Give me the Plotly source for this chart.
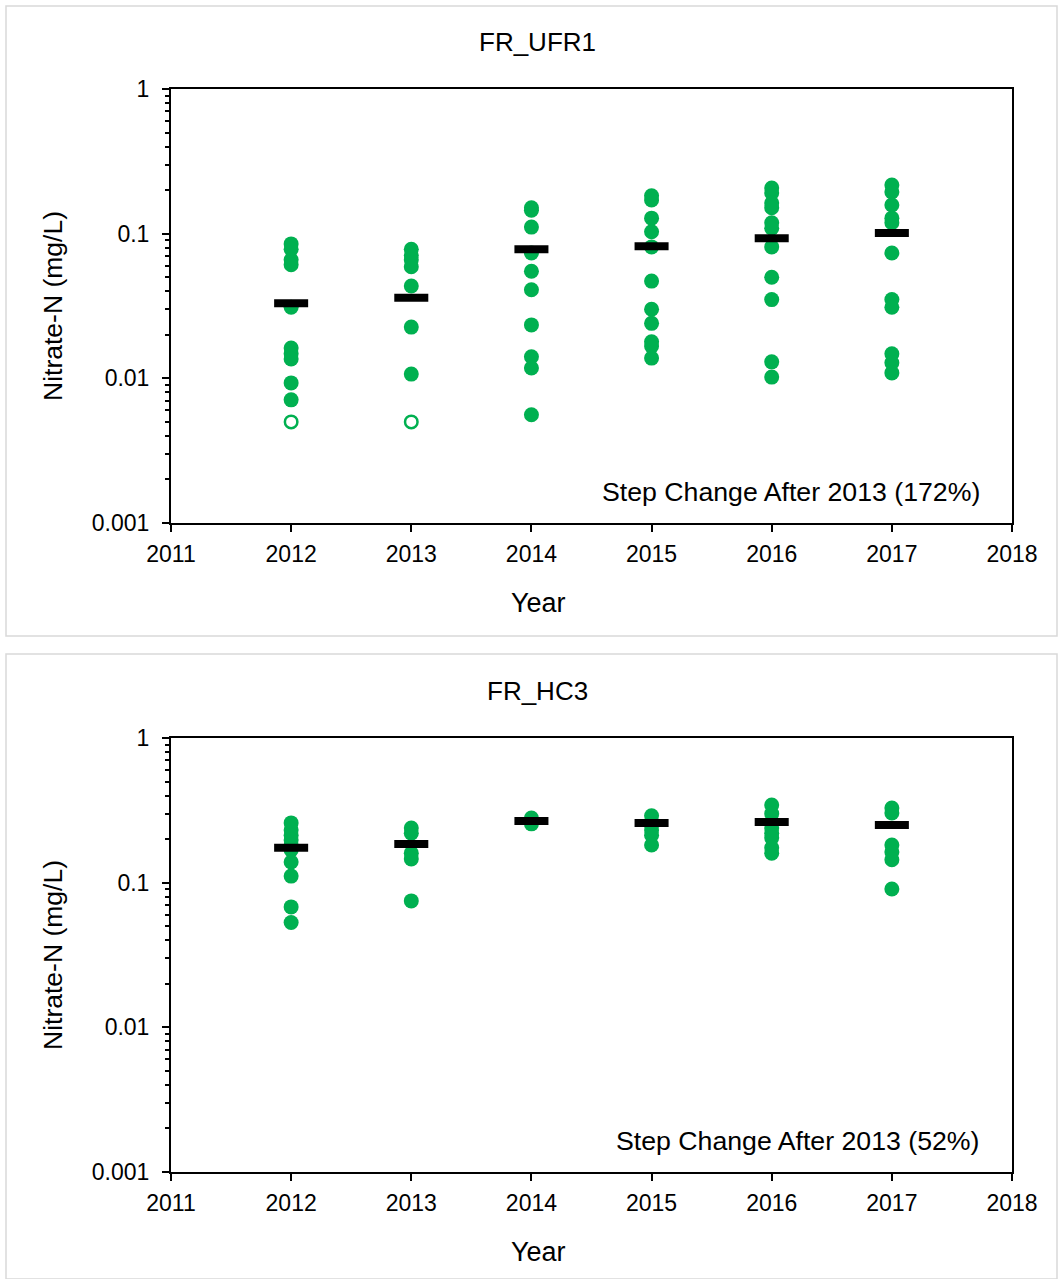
import plotly.graph_objects as go

# ---------------- data ----------------
years = [2012, 2013, 2014, 2015, 2016, 2017]

# FR_UFR1 (top)
ufr1_detect = {
    2012: [0.085, 0.078, 0.066, 0.061, 0.031, 0.0162, 0.0148, 0.0136, 0.0093, 0.0071],
    2013: [0.078, 0.071, 0.066, 0.059, 0.0435, 0.0226, 0.0107],
    2014: [0.151, 0.145, 0.111, 0.0736, 0.055, 0.041, 0.0234, 0.0141, 0.0118, 0.0056],
    2015: [0.183, 0.171, 0.128, 0.103, 0.081, 0.047, 0.030, 0.024, 0.0179, 0.0167, 0.0138],
    2016: [0.207, 0.191, 0.163, 0.151, 0.119, 0.109, 0.081, 0.050, 0.035, 0.013, 0.0102],
    2017: [0.217, 0.194, 0.158, 0.128, 0.119, 0.0736, 0.035, 0.031, 0.0148, 0.0128, 0.0109],
}
ufr1_nondetect = {2012: [0.005], 2013: [0.005]}
ufr1_median = [0.033, 0.036, 0.078, 0.082, 0.093, 0.101]

# FR_HC3 (bottom)
hc3_detect = {
    2012: [0.259, 0.231, 0.213, 0.197, 0.182, 0.168, 0.139, 0.111, 0.068, 0.053],
    2013: [0.239, 0.22, 0.160, 0.146, 0.0748],
    2014: [0.28, 0.255],
    2015: [0.29, 0.25, 0.231, 0.213, 0.182],
    2016: [0.344, 0.30, 0.239, 0.22, 0.204, 0.174, 0.160],
    2017: [0.328, 0.303, 0.182, 0.163, 0.144, 0.0905],
}
hc3_nondetect = {}
hc3_median = [0.174, 0.185, 0.267, 0.259, 0.263, 0.25]

titles = ["FR_UFR1", "FR_HC3"]
notes = ["Step Change After 2013 (172%)", "Step Change After 2013 (52%)"]
x_title = "Year"
y_title = "Nitrate-N (mg/L)"
ytick_vals = [0.001, 0.01, 0.1, 1]
ytick_text = ["0.001", "0.01", "0.1", "1"]
minor_vals = [k * d for d in (0.001, 0.01, 0.1) for k in range(2, 10)]

# ---------------- figure ----------------
W, H = 1058, 1279
GREEN = "#00B050"
FONT = "Liberation Sans, Arial, sans-serif"

fig = go.Figure()

def flat(d):
    xs, ys = [], []
    for yr, vals in d.items():
        for v in vals:
            xs.append(yr)
            ys.append(v)
    return xs, ys

panels = [
    (ufr1_detect, ufr1_nondetect, ufr1_median, "x", "y"),
    (hc3_detect, hc3_nondetect, hc3_median, "x2", "y2"),
]
for det, nd, med, xa, ya in panels:
    xs, ys = flat(det)
    fig.add_trace(go.Scatter(x=xs, y=ys, mode="markers", xaxis=xa, yaxis=ya,
                             marker=dict(color=GREEN, size=15, line=dict(width=0)),
                             showlegend=False, hoverinfo="skip"))
    if nd:
        xs, ys = flat(nd)
        fig.add_trace(go.Scatter(x=xs, y=ys, mode="markers", xaxis=xa, yaxis=ya,
                                 marker=dict(color="white", size=12.5,
                                             line=dict(color=GREEN, width=2.5)),
                                 showlegend=False, hoverinfo="skip"))
    fig.add_trace(go.Scatter(x=years, y=med, mode="markers", xaxis=xa, yaxis=ya,
                             marker=dict(symbol="line-ew", size=24.3,
                                         line=dict(color="black", width=8)),
                             showlegend=False, hoverinfo="skip"))

# plot-area pixel boxes
boxes = [(89, 523), (738, 1172)]
x0p, x1p = 171, 1012
xdom = [x0p / W, x1p / W]

axis_common = dict(showline=True, linecolor="black", linewidth=2, mirror=True,
                   ticks="outside", tickcolor="black", tickwidth=2, showgrid=False,
                   zeroline=False, automargin=False,
                   tickfont=dict(family=FONT, size=23, color="black"))

for i, (top, bot) in enumerate(boxes):
    sfx = "" if i == 0 else "2"
    ydom = [1 - bot / H, 1 - top / H]
    fig.update_layout(**{
        "xaxis" + sfx: dict(axis_common, domain=xdom, range=[2011, 2018], dtick=1,
                            tick0=2011, ticklen=7, ticklabelstandoff=2,
                            anchor="y" + sfx),
        "yaxis" + sfx: dict(axis_common, domain=ydom, type="log", range=[-3, 0],
                            tickmode="array", tickvals=ytick_vals, ticktext=ytick_text,
                            ticklen=7, ticklabelstandoff=8, anchor="x" + sfx,
                            minor=dict(tickmode="array", tickvals=minor_vals,
                                       ticks="outside", ticklen=4, tickcolor="black",
                                       tickwidth=1.5, showgrid=False),
                            title=dict(text=y_title,
                                       font=dict(family=FONT, size=26.5, color="black"),
                                       standoff=22)),
    })
    off = 649 * i
    # chart titles
    fig.add_annotation(text=titles[i], xref="paper", yref="paper",
                       x=537 / W, y=1 - (42 + off) / H, showarrow=False,
                       xanchor="center", yanchor="middle",
                       font=dict(family=FONT, size=26, color="black"))
    # x-axis title (centred on the panel, as in the reference)
    fig.add_annotation(text=x_title, xref="paper", yref="paper",
                       x=538 / W, y=1 - (603 + off) / H, showarrow=False,
                       xanchor="center", yanchor="middle",
                       font=dict(family=FONT, size=27, color="black"))
    # step change note
    fig.add_annotation(text=notes[i], xref="paper", yref="paper",
                       x=982 / W, y=1 - (492 + off) / H, showarrow=False,
                       xanchor="right", yanchor="middle",
                       font=dict(family=FONT, size=26.7, color="black"))

# panel borders
for (py0, py1) in [(6, 636), (654, 1279)]:
    fig.add_shape(type="rect", xref="paper", yref="paper",
                  x0=6 / W, x1=1057 / W, y0=1 - py1 / H, y1=1 - py0 / H,
                  line=dict(color="#D9D9D9", width=1.5), fillcolor="rgba(0,0,0,0)",
                  layer="below")

fig.update_layout(width=W, height=H, margin=dict(l=0, r=0, t=0, b=0, autoexpand=False),
                  paper_bgcolor="white", plot_bgcolor="white", hovermode=False,
                  font=dict(family=FONT, color="black"))

fig.write_html("out.html", config={"displayModeBar": False},
               post_script="document.body.style.margin='0';document.body.style.overflow='hidden';")
